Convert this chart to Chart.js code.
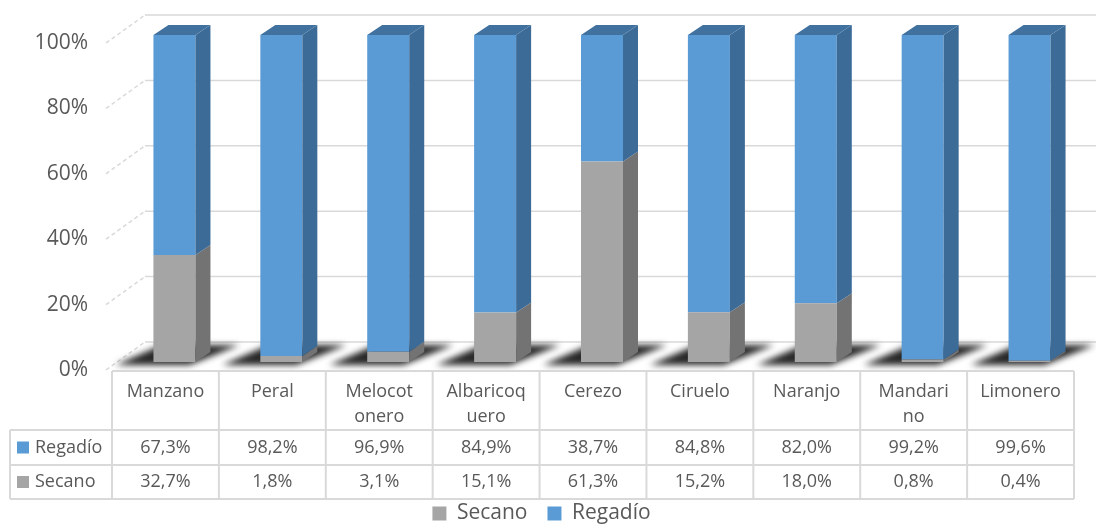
<!DOCTYPE html>
<html>
<head>
<meta charset="utf-8">
<script src="https://cdn.jsdelivr.net/npm/chart.js@4.4.1/dist/chart.umd.min.js"></script>
<style>
  html, body { margin: 0; background: #fff; }
  #wrap { width: 1096px; height: 525px; }
</style>
</head>
<body>
<div id="wrap"><canvas id="c"></canvas></div>
<script>
const categories = ['Manzano', 'Peral', ['Melocot', 'onero'], ['Albaricoq', 'uero'], 'Cerezo', 'Ciruelo', 'Naranjo', ['Mandari', 'no'], 'Limonero'];
const regadio = [67.3, 98.2, 96.9, 84.9, 38.7, 84.8, 82.0, 99.2, 99.6];
const secano = [32.7, 1.8, 3.1, 15.1, 61.3, 15.2, 18.0, 0.8, 0.4];
const yTicks = [0, 20, 40, 60, 80, 100];

const TEXT = '#595959';
const LINE = '#d9d9d9';
const BLUE = '#5b9bd5', BLUE_SIDE = '#3d6b98', BLUE_TOP = '#41729f';
const GRAY = '#a5a5a5', GRAY_SIDE = '#737373';
const DX = 15, DY = 10; // bar depth

Chart.defaults.font.family = '"Open Sans", sans-serif';
Chart.defaults.color = TEXT;

function pct(v) {
    return v.toFixed(1).replace('.', ',') + '%';
}

function poly(ctx, pts) {
    ctx.beginPath();
    ctx.moveTo(pts[0][0], pts[0][1]);
    for (let i = 1; i < pts.length; i++) ctx.lineTo(pts[i][0], pts[i][1]);
    ctx.closePath();
}

// back wall, left wall, floor shadows
const wallPlugin = {
    id: 'wall',
    beforeDatasetsDraw(chart) {
        const { ctx, chartArea: a, scales: { y } } = chart;
        ctx.save();
        ctx.strokeStyle = LINE;
        ctx.lineWidth = 1.5;
        yTicks.forEach(v => {
            const py = y.getPixelForValue(v);
            ctx.setLineDash([]);
            ctx.beginPath();
            ctx.moveTo(a.left + 24, py - 20);
            ctx.lineTo(chart.width, py - 20);
            ctx.stroke();
            ctx.setLineDash([4, 3]);
            ctx.beginPath();
            ctx.moveTo(a.left - 15, py + 8);
            ctx.lineTo(a.left + 24, py - 20);
            ctx.stroke();
        });
        ctx.setLineDash([]);

        // shadows under bars
        const meta = chart.getDatasetMeta(0);
        const B = y.getPixelForValue(0);
        ctx.filter = 'blur(3px)';
        ctx.fillStyle = 'rgba(40,40,40,1)';
        meta.data.forEach(el => {
            const xL = el.x - el.width / 2, xR = el.x + el.width / 2;
            poly(ctx, [[xL - 38, B + 3], [xR - 6, B + 3], [xR + 44, B - 17], [xL + 8, B - 17]]);
            ctx.fill();
        });
        ctx.filter = 'none';
        ctx.restore();
    },
    afterDatasetsDraw(chart) {
        const { ctx } = chart;
        const last = chart.data.datasets.length - 1;
        ctx.save();
        chart.data.datasets.forEach((ds, d) => {
            const meta = chart.getDatasetMeta(d);
            meta.data.forEach(el => {
                const xL = el.x - el.width / 2, xR = el.x + el.width / 2;
                const top = Math.min(el.y, el.base), bot = Math.max(el.y, el.base);
                ctx.fillStyle = d === last ? BLUE_SIDE : GRAY_SIDE;
                poly(ctx, [[xR, top], [xR + DX, top - DY], [xR + DX, bot - DY], [xR, bot]]);
                ctx.fill();
                if (d === last) {
                    ctx.fillStyle = BLUE_TOP;
                    poly(ctx, [[xL, top], [xL + DX, top - DY], [xR + DX, top - DY], [xR, top]]);
                    ctx.fill();
                }
            });
        });
        ctx.restore();
    }
};

// data table under the plot
const tablePlugin = {
    id: 'table',
    afterDraw(chart) {
        const { ctx, chartArea: a, scales: { x } } = chart;
        const n = categories.length;
        const colW = (a.right - a.left) / n;
        const left = a.left - 9;
        const right = left + n * colW;
        const t0 = a.bottom + 9, t1 = t0 + 59, t2 = t1 + 35, t3 = t2 + 34;
        const labelLeft = 10;

        ctx.save();
        ctx.strokeStyle = LINE;
        ctx.lineWidth = 2;
        ctx.beginPath();
        ctx.moveTo(left, t0); ctx.lineTo(right, t0);
        [t1, t2, t3].forEach(ty => { ctx.moveTo(labelLeft, ty); ctx.lineTo(right, ty); });
        ctx.moveTo(labelLeft, t1); ctx.lineTo(labelLeft, t3);
        for (let i = 0; i <= n; i++) {
            const cx = left + i * colW;
            ctx.moveTo(cx, t0); ctx.lineTo(cx, t3);
        }
        ctx.stroke();

        ctx.fillStyle = TEXT;
        ctx.font = '18px "Open Sans", sans-serif';
        ctx.textAlign = 'center';
        ctx.textBaseline = 'middle';
        categories.forEach((c, i) => {
            const cx = x.getPixelForValue(i) - 9;
            const lines = Array.isArray(c) ? c : [c];
            lines.forEach((ln, k) => ctx.fillText(ln, cx, t0 + 21 + k * 25));
            ctx.fillText(pct(regadio[i]), cx, (t1 + t2) / 2);
            ctx.fillText(pct(secano[i]), cx, (t2 + t3) / 2);
        });

        const rows = [['Regadío', BLUE, (t1 + t2) / 2], ['Secano', GRAY, (t2 + t3) / 2]];
        rows.forEach(([name, col, cy]) => {
            ctx.fillStyle = col;
            ctx.fillRect(17, cy - 6, 12, 12);
            ctx.fillStyle = TEXT;
            ctx.textAlign = 'left';
            ctx.fillText(name, 35, cy);
        });
        ctx.restore();
    }
};

new Chart(document.getElementById('c'), {
    type: 'bar',
    data: {
        labels: categories,
        datasets: [
            { label: 'Secano', data: secano, backgroundColor: GRAY, borderWidth: 0 },
            { label: 'Regadío', data: regadio, backgroundColor: BLUE, borderWidth: 0 }
        ]
    },
    options: {
        responsive: true,
        maintainAspectRatio: false,
        animation: false,
        layout: { padding: { top: 35, right: 13, bottom: -9, left: 0 } },
        datasets: { bar: { categoryPercentage: 1, barPercentage: 0.393 } },
        plugins: {
            legend: {
                position: 'bottom',
                labels: { font: { size: 21 }, boxWidth: 14, boxHeight: 14, padding: 20, color: TEXT }
            },
            tooltip: { enabled: false }
        },
        scales: {
            x: {
                stacked: true,
                grid: { display: false },
                border: { display: false },
                ticks: { display: false },
                afterFit: s => { s.height = 121; }
            },
            y: {
                stacked: true,
                min: 0,
                max: 100,
                grid: { display: false, drawTicks: true, tickLength: 33 },
                border: { display: false },
                ticks: {
                    stepSize: 20,
                    padding: 0,
                    labelOffset: 8,
                    font: { size: 21 },
                    color: TEXT,
                    callback: v => v + '%'
                },
                afterFit: s => { s.width = 121; }
            }
        }
    },
    plugins: [wallPlugin, tablePlugin]
});
</script>
</body>
</html>
